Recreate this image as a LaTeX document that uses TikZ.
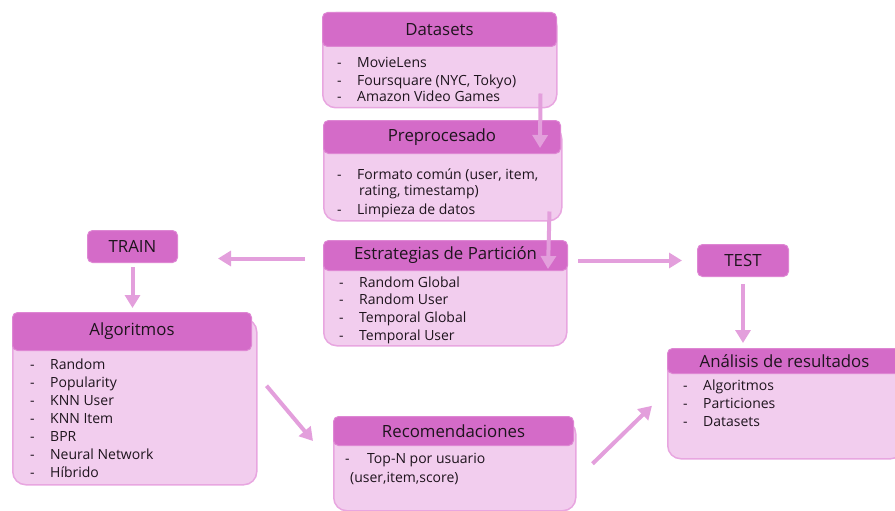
\documentclass[tikz,border=0pt]{standalone}
\usepackage{fontspec}
\setmainfont{Open Sans}
\usetikzlibrary{arrows.meta,calc}
\definecolor{hdfill}{HTML}{D46BC8}
\definecolor{hdline}{HTML}{DE86D3}
\definecolor{bdfill}{HTML}{F2CDEE}
\definecolor{bdline}{HTML}{E8A6E0}
\definecolor{arr}{HTML}{E39FDC}
\definecolor{txt}{HTML}{1E141D}
\tikzset{
  bodyb/.style={draw=bdline, line width=1.5pt, fill=bdfill, rounded corners=13pt, inner sep=0pt, anchor=north west},
  headb/.style={draw=hdline, line width=1pt, fill=hdfill, rounded corners=5pt, inner sep=0pt, anchor=north west, font=\fontsize{16.8}{19}\selectfont, text=txt},
  itm/.style={inner sep=0pt, anchor=base west, font=\fontsize{14}{17}\selectfont, text=txt},
  flow/.style={draw=arr, line width=4pt, -{Triangle[length=13pt,width=15pt]}},
}
\newcommand{\bitem}[4]{\node[itm] (#1) at (#2,#3) {\makebox[20pt][l]{-}#4};}
\begin{document}
\begin{tikzpicture}[x=1pt,y=-1pt]
\useasboundingbox (0,0) rectangle (895,511);
% Datasets
\node[bodyb, minimum width=234, minimum height=95] (dsb) at (322,12) {};
\node[headb, minimum width=234, minimum height=34] (dsh) at (322,12) {Datasets};
\bitem{ds1}{337}{67}{MovieLens}
\bitem{ds2}{337}{85}{Foursquare (NYC, Tokyo)}
\bitem{ds3}{337}{102}{Amazon Video Games}
% Preprocesado
\node[bodyb, minimum width=238, minimum height=95] (prb) at (323,125) {};
\node[headb, minimum width=237, minimum height=33] (prh) at (323,120) {Preprocesado};
\bitem{pr1}{337}{179}{Formato común (user, item,}
\node[itm] (pr2) at (359,195) {rating, timestamp)};
\bitem{pr3}{337}{214}{Limpieza de datos}
% Estrategias
\node[bodyb, minimum width=243, minimum height=100] (esb) at (323,245) {};
\node[headb, minimum width=244, minimum height=30] (esh) at (323,240) {Estrategias de Partición};
\bitem{es1}{339}{287}{Random Global}
\bitem{es2}{339}{304}{Random User}
\bitem{es3}{339}{322}{Temporal Global}
\bitem{es4}{339}{340}{Temporal User}
% TRAIN / TEST
\node[headb, minimum width=90, minimum height=32] (train) at (87,230) {TRAIN};
\node[headb, minimum width=91, minimum height=32] (test) at (697,244) {TEST};
% Algoritmos
\node[bodyb, minimum width=244, minimum height=166] (algb) at (12,318) {};
\node[headb, minimum width=239, minimum height=38] (algh) at (12,312) {Algoritmos};
\bitem{al1}{30}{369}{Random}
\bitem{al2}{30}{387}{Popularity}
\bitem{al3}{30}{405}{KNN User}
\bitem{al4}{30}{423}{KNN Item}
\bitem{al5}{30}{441}{BPR}
\bitem{al6}{30}{459}{Neural Network}
\bitem{al7}{30}{477}{Híbrido}
% Recomendaciones
\node[bodyb, minimum width=242, minimum height=90] (reb) at (333,420) {};
\node[headb, minimum width=240, minimum height=29] (reh) at (333,416) {Recomendaciones};
\node[itm] (re1) at (345,463) {\makebox[22pt][l]{-}Top-N por usuario};
\node[itm] (re2) at (350,482) {(user,item,score)};
% Analisis
\node[bodyb, minimum width=236, minimum height=106] (anb) at (667,352) {};
\node[headb, minimum width=234, minimum height=25] (anh) at (667,348) {Análisis de resultados};
\bitem{an1}{683}{390}{Algoritmos}
\bitem{an2}{683}{408}{Particiones}
\bitem{an3}{683}{426}{Datasets}
% connectors
\coordinate (a1s) at ($(dsb.south east)+(-17,-15)$);
\coordinate (a1e) at ($(prh.north east)+(-21,28)$);
\draw[flow] (a1s) -- (a1e);
\coordinate (a2s) at ($(prb.south east)+(-13,-10)$);
\coordinate (a2e) at ($(esh.north east)+(-20,29)$);
\draw[flow] (a2s) -- (a2e);
\coordinate (a3s) at ($(esh.west)+(-18,3)$);
\coordinate (a3e) at ($(train.east)+(40,12)$);
\draw[flow] (a3s) -- (a3e);
\coordinate (a4s) at ($(esh.east)+(10,5)$);
\coordinate (a4e) at ($(test.west)+(-15,0)$);
\draw[flow] (a4s) -- (a4e);
\draw[flow, shorten <=4pt, shorten >=4pt] (train.south) -- (train.south |- algh.north);
\draw[flow, shorten <=7pt, shorten >=5pt] (test.south) -- (test.south |- anh.north);
\coordinate (a5s) at ($(algb.east)+(9,-16)$);
\coordinate (a5e) at ($(reh.west)+(-20,10)$);
\draw[flow] (a5s) -- (a5e);
\coordinate (a6s) at ($(reb.east)+(16,-2)$);
\coordinate (a6e) at ($(anb.west)+(-15,0)$);
\draw[flow] (a6s) -- (a6e);
\end{tikzpicture}
\end{document}
